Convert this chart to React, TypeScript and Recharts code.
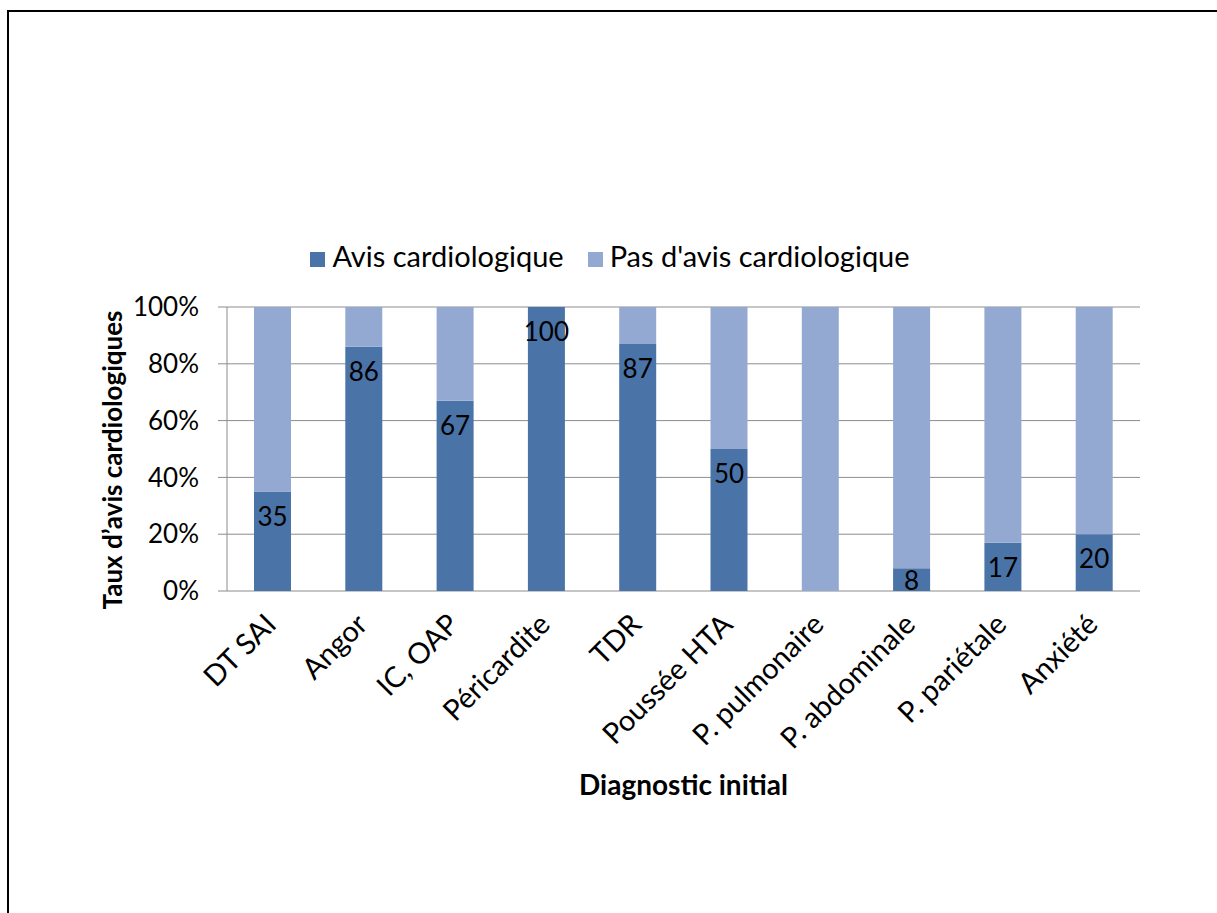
import { BarChart, Bar, XAxis, YAxis, CartesianGrid, Legend, LabelList } from 'recharts';

// diagnostic initial
const categories = [
  'DT SAI',
  'Angor',
  'IC, OAP',
  'Péricardite',
  'TDR',
  'Poussée HTA',
  'P. pulmonaire',
  'P. abdominale',
  'P. pariétale',
  'Anxiété',
];

// % avec avis cardiologique
const avisValues = [35, 86, 67, 100, 87, 50, 0, 8, 17, 20];
// % sans avis cardiologique
const sansAvisValues = [65, 14, 33, 0, 13, 50, 100, 92, 83, 80];

const yTicks = [0, 20, 40, 60, 80, 100];
const boundaryTicks = [0, 1, 2, 3, 4, 5, 6, 7, 8, 9, 10];

const data = categories.map((name, i) => ({
  name,
  avis: avisValues[i],
  sansAvis: sansAvisValues[i],
}));

const FONT = 'Lato, "Open Sans", sans-serif';
const DARK = '#4a73a8';
const LIGHT = '#94a9d2';
const GRID = '#8c8c8c';

const AngleTick = ({ x, y, payload }: any) => (
  <g transform={`translate(${x + 1},${y + 23})`}>
    <text
      textAnchor="end"
      transform="rotate(-45)"
      fontSize={29}
      fill="#000"
      fontFamily={FONT}
      dy={6}
    >
      {payload.value}
    </text>
  </g>
);

// valeur dans le haut de la barre (centrée si la barre est courte)
const ValueLabel = ({ x, y, width, height, value }: any) => {
  if (!value) return null;
  return (
    <text
      x={x + width / 2}
      y={y + Math.min(24, height / 2)}
      textAnchor="middle"
      dominantBaseline="central"
      fontSize={26}
      fill="#000"
      fontFamily={FONT}
    >
      {value}
    </text>
  );
};

const YTitle = ({ viewBox }: any) => (
  <text
    transform={`translate(${viewBox.x + viewBox.width / 2 - 2},${viewBox.y + viewBox.height / 2 + 11}) rotate(-90)`}
    textAnchor="middle"
    dominantBaseline="central"
    fontSize={26}
    fontWeight={700}
    fill="#000"
    fontFamily={FONT}
  >
    Taux d’avis cardiologiques
  </text>
);

export default function App() {
  return (
    <div
      style={{
        position: 'fixed',
        left: 0,
        top: 0,
        width: 1217,
        height: 913,
        overflow: 'hidden',
        background: '#fff',
      }}
    >
      <div
        style={{
          position: 'absolute',
          left: 7,
          top: 10,
          width: 1260,
          height: 960,
          border: '2px solid #000',
        }}
      />
      <div style={{ position: 'absolute', left: 0, top: 0 }}>
        <BarChart
          width={1217}
          height={913}
          data={data}
          margin={{ top: 307, right: 77, bottom: 0, left: 0 }}
          style={{ fontFamily: FONT }}
        >
          <CartesianGrid vertical={false} stroke={GRID} strokeWidth={1} xAxisId="grid" />
          <XAxis
            xAxisId="grid"
            type="number"
            domain={[0, 10]}
            ticks={boundaryTicks}
            tick={false}
            height={0}
            axisLine={{ stroke: GRID }}
            tickLine={{ stroke: GRID }}
            tickSize={8}
          />
          <XAxis
            xAxisId="cat"
            dataKey="name"
            interval={0}
            height={322}
            axisLine={false}
            tickLine={false}
            tick={<AngleTick />}
            label={{
              value: 'Diagnostic initial',
              position: 'insideBottom',
              offset: 118,
              fontSize: 28,
              fontWeight: 700,
              fill: '#000',
              fontFamily: FONT,
            }}
          />
          <YAxis
            domain={[0, 100]}
            ticks={yTicks}
            width={227}
            tickFormatter={(v) => `${v}%`}
            axisLine={{ stroke: GRID }}
            tickLine={{ stroke: GRID }}
            tickSize={9}
            tickMargin={19}
            tick={{ fontSize: 26, fill: '#000', fontFamily: FONT }}
            label={<YTitle />}
          />
          <Legend
            layout="horizontal"
            verticalAlign="middle"
            align="center"
            iconType="square"
            iconSize={15}
            wrapperStyle={{ top: 238, left: 0, width: 1230, fontSize: 29, fontFamily: FONT }}
            formatter={(value, _entry, index) => (
              <span style={{ color: '#000', marginRight: index === 0 ? 14 : 0, marginLeft: 3 }}>
                {value}
              </span>
            )}
          />
          <Bar
            xAxisId="cat"
            dataKey="avis"
            name="Avis cardiologique"
            stackId="a"
            fill={DARK}
            barSize={37}
            isAnimationActive={false}
          >
            <LabelList dataKey="avis" content={<ValueLabel />} />
          </Bar>
          <Bar
            xAxisId="cat"
            dataKey="sansAvis"
            name="Pas d'avis cardiologique"
            stackId="a"
            fill={LIGHT}
            barSize={37}
            isAnimationActive={false}
          />
        </BarChart>
      </div>
    </div>
  );
}
